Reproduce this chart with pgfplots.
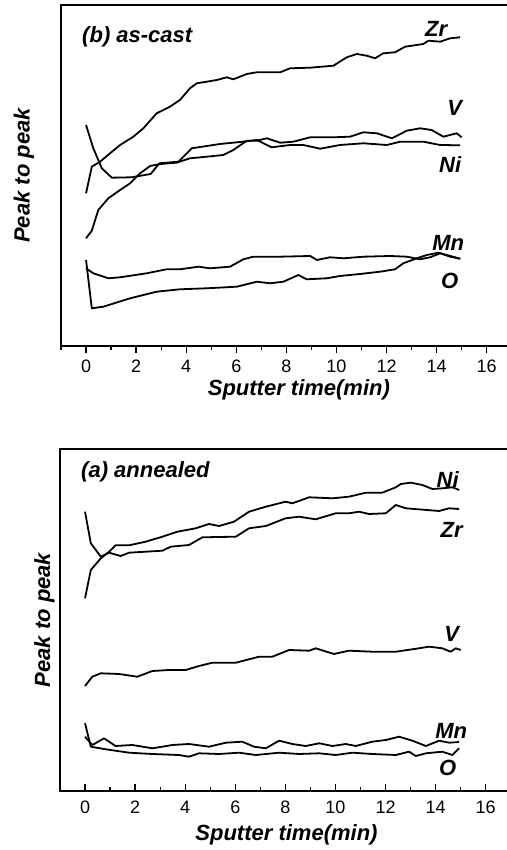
\documentclass[border=0pt]{standalone}
\usepackage{pgfplots}
\pgfplotsset{compat=1.18}
\usepackage{fontspec}
\setmainfont{Liberation Sans}
\begin{document}
\begin{tikzpicture}[x=1bp,y=1bp]
\tikzset{lbl/.style={font=\fontsize{22bp}{22bp}\selectfont\bfseries\itshape, inner sep=0pt, anchor=center}}
\pgfplotsset{
  myaxis/.style={
    scale only axis, width=475.8bp, xmin=-1, xmax=18, ymin=0,
    axis line style={line width=1.6bp},
    xtick={0,2,...,16}, minor xtick={-1,1,...,17}, ytick=\empty, tick pos=left,
    major tick length=7bp, minor tick length=4bp,
    tick style={line width=1.3bp, black},
    /pgf/number format/assume math mode=true,
    xticklabel style={font=\fontsize{18bp}{18bp}\selectfont, anchor=center},
    label style={font=\fontsize{22bp}{22bp}\selectfont\bfseries\itshape},
    xlabel={Sputter time(min)}, ylabel={Peak to peak},
    no markers,
    every axis plot post/.append style={black, line width=1.8bp, line join=round, mark=none},
  }
}
% ---------- top panel: (b) as-cast ----------
\begin{axis}[myaxis, at={(61bp,504bp)}, anchor=south west, height=341bp, ymax=341,
  tick align=outside,
  xticklabel style={yshift=-13bp},
  xlabel style={at={(axis description cs:0.5,-0.129)}, anchor=center},
  ylabel style={at={(axis description cs:-0.0778,0.5)}, anchor=center}]
% Zr
\addplot coordinates {(0,152.7)(0.23,179.3)(0.56,184.3)(0.96,192.7)(1.36,201)(1.89,209.3)(2.29,217.7)(2.82,232.7)(3.35,239.3)(3.75,246)(4.15,257.7)(4.42,262.7)(4.82,264.3)(5.22,266)(5.62,268.7)(5.88,266.7)(6.42,272)(6.82,273.7)(7.75,273.7)(8.15,277.7)(8.95,278.3)(9.88,280.3)(10.41,288.7)(10.81,292)(11.21,290.3)(11.54,287.7)(11.87,292.7)(12.34,293.7)(12.74,299.3)(13.47,302)(13.67,305.3)(14.14,304.3)(14.54,307.7)(14.94,308.7)};
% Ni
\addplot coordinates {(0,221)(0.29,197.7)(0.63,177.7)(1.03,168.3)(1.82,168.7)(2.58,172)(2.93,182.7)(3.69,184.3)(4.22,197.7)(5.35,202)(6.15,204)(6.82,206)(7.41,198.7)(8.15,201)(8.68,201)(9.35,197.3)(10.14,201)(11.08,202.7)(12.01,201)(12.54,204.3)(13.47,204.3)(14.14,201)(14.94,200.7)};
% V
\addplot coordinates {(0,107.7)(0.23,115.3)(0.49,136)(0.89,147.7)(1.36,156)(1.76,162.7)(2.16,172.7)(2.56,180)(2.96,182)(3.62,183.3)(4.15,187.7)(4.82,189.3)(5.48,191)(5.88,196)(6.42,205.3)(6.82,205.3)(7.22,207.7)(7.75,203.3)(8.28,204.3)(8.95,208.7)(9.88,208.7)(10.54,209.3)(11.08,213.7)(11.61,212.7)(12.21,207.7)(12.81,215.3)(13.34,217.7)(13.8,216)(14.27,209.3)(14.8,212.7)(15.0,208.7)};
% Mn
\addplot coordinates {(0,77.7)(0.29,72.7)(0.89,67.7)(1.36,68.7)(2.42,72.7)(3.22,76.7)(3.75,76.7)(4.49,79.3)(4.95,77.7)(5.75,79.3)(6.28,86.7)(6.68,89.3)(7.75,89.3)(8.95,90)(9.22,86)(9.74,88.7)(10.28,87.7)(11.08,89.3)(12.14,90)(12.81,89.3)(13.34,86.7)(13.74,88.7)(14.14,92.7)(14.54,89.3)(14.94,87.3)};
% O
\addplot coordinates {(0,86)(0.23,37.7)(0.69,39.3)(1.76,47.7)(2.82,54.3)(3.75,56.7)(4.82,57.7)(6.02,59.3)(6.82,64.3)(7.35,62.7)(7.88,64.3)(8.48,71)(8.81,66.7)(9.61,67.7)(10.14,70)(10.94,72)(11.74,74.3)(12.34,76.7)(12.67,82.7)(13.21,87.7)(13.61,91)(14.07,93.3)(14.40,91)(14.94,87.3)};
\node[lbl, anchor=west] at (axis cs:-0.16,309) {(b) as-cast};
\node[lbl] at (axis cs:13.98,317) {Zr};
\node[lbl] at (axis cs:14.72,238) {V};
\node[lbl] at (axis cs:14.54,181.5) {Ni};
\node[lbl] at (axis cs:14.46,103.5) {Mn};
\node[lbl] at (axis cs:14.52,65.5) {O};
\end{axis}
% ---------- bottom panel: (a) annealed ----------
\begin{axis}[myaxis, at={(60bp,59bp)}, anchor=south west, height=342bp, ymax=342,
  tick align=inside,
  xticklabel style={yshift=-16.5bp},
  xlabel style={at={(axis description cs:0.476,-0.1287)}, anchor=center},
  ylabel style={at={(axis description cs:-0.0326,0.5)}, anchor=center}]
% Ni
\addplot coordinates {(0,192.7)(0.23,221)(0.63,232.7)(0.96,239.3)(1.22,245.7)(1.76,245.7)(2.42,249.3)(3.09,254.3)(3.69,259.3)(4.42,262.7)(4.95,267)(5.35,265)(5.95,269.3)(6.55,279.3)(7.22,284.3)(8.01,289.3)(8.28,287.7)(8.95,293.7)(9.88,292.7)(10.54,294.3)(11.21,298.3)(11.87,298.3)(12.41,303.7)(12.61,307)(13.01,308.3)(13.47,306)(13.87,302)(14.27,302.7)(14.67,303.7)(14.94,301)};
% Zr
\addplot coordinates {(0,279.3)(0.23,247.7)(0.63,234.3)(0.96,238.3)(1.42,235)(1.76,238.3)(3.09,240.3)(3.42,244.3)(4.15,246)(4.69,253.7)(6.02,254.3)(6.55,262.7)(7.22,265)(8.01,272.7)(8.55,274.3)(9.21,271.7)(10.01,277.7)(10.54,277.7)(10.94,279.3)(11.34,277)(12.01,277.7)(12.41,286)(12.81,282.7)(14.14,280)(14.54,282.7)(14.94,282)};
% V
\addplot coordinates {(0,105)(0.29,114.3)(0.63,117.7)(1.36,117)(2.09,114.3)(2.69,120)(3.35,121)(4.02,121)(4.55,125)(5.09,128.3)(6.02,128.3)(6.95,134.3)(7.48,134.3)(8.15,141)(8.95,140.3)(9.21,142.7)(9.94,137)(10.54,140.3)(11.47,139.3)(12.41,139.3)(13.07,141.7)(13.74,144.3)(14.27,142.7)(14.60,139.3)(14.8,142.7)(15.0,141)};
% Mn
\addplot coordinates {(0,54.3)(0.29,46)(0.76,52.7)(1.22,45)(1.89,46)(2.69,42.7)(3.49,46)(4.15,47)(4.95,44.3)(5.62,48.3)(6.28,49.3)(6.75,44.3)(7.22,42.7)(7.75,50.3)(8.28,47)(8.81,45)(9.35,47.7)(9.88,45)(10.41,47)(10.81,45)(11.47,49.3)(12.01,51)(12.54,54.3)(13.07,50.3)(13.61,45)(14.14,50.3)(14.54,48.3)(14.94,49)};
% O
\addplot coordinates {(0,67.7)(0.23,44.3)(0.83,41.7)(1.76,38.3)(2.69,37)(3.75,36)(4.15,34.3)(4.55,37.7)(5.35,37)(6.15,38.3)(6.82,36)(7.75,38.3)(8.55,37)(9.35,37.7)(10.01,36)(10.68,38.3)(11.47,37)(12.41,36)(12.94,39.3)(13.21,35)(13.61,37.7)(14.27,39.3)(14.67,36)(14.94,42.7)};
\node[lbl, anchor=west] at (axis cs:-0.16,319.5) {(a) annealed};
\node[lbl] at (axis cs:14.48,311) {Ni};
\node[lbl] at (axis cs:14.64,261) {Zr};
\node[lbl] at (axis cs:14.64,157.5) {V};
\node[lbl] at (axis cs:14.62,60.5) {Mn};
\node[lbl] at (axis cs:14.48,23.5) {O};
\end{axis}
\pgfresetboundingbox
\path[use as bounding box] (0,0) rectangle (507bp,850bp);
\end{tikzpicture}
\end{document}
